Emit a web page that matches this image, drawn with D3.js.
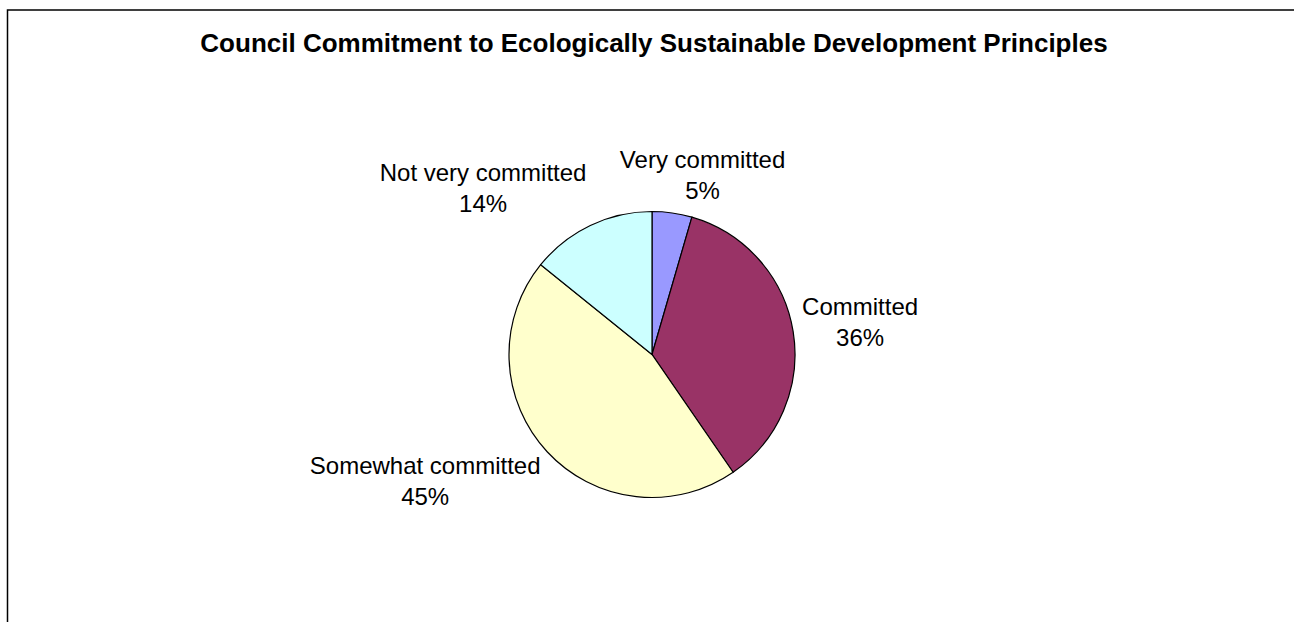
<!DOCTYPE html>
<html>
<head>
<meta charset="utf-8">
<script src="https://cdn.jsdelivr.net/npm/d3@7"></script>
<style>
  body { margin: 0; background: #fff; }
  svg { display: block; }
</style>
</head>
<body>
<svg id="chart" width="1294" height="622"></svg>
<script>
// chart data
const categories = ["Very committed", "Committed", "Somewhat committed", "Not very committed"];
const values = [4.5, 35.9, 45.4, 14.2];
const pctLabels = ["5%", "36%", "45%", "14%"];
const colors = ["#9999FF", "#993366", "#FFFFCC", "#CCFFFF"];
const title = "Council Commitment to Ecologically Sustainable Development Principles";

const width = 1294, height = 622;
const cx = 652, cy = 354.5, radius = 143;
const font = "'Liberation Sans', Arial, sans-serif";

const svg = d3.select("#chart");

// chart area frame (runs off the right and bottom of the window)
svg.append("rect")
  .attr("x", 7.5).attr("y", 10)
  .attr("width", width + 20).attr("height", height + 20)
  .attr("fill", "#fff")
  .attr("stroke", "#000")
  .attr("stroke-width", 1.5);

svg.append("text")
  .attr("x", 654).attr("y", 52)
  .attr("text-anchor", "middle")
  .attr("font-family", font)
  .attr("font-weight", "bold")
  .attr("font-size", 26)
  .text(title);

const pie = d3.pie().sort(null).value(d => d)(values);
const arc = d3.arc().innerRadius(0).outerRadius(radius);

const g = svg.append("g").attr("transform", "translate(" + cx + "," + cy + ")");

g.selectAll(".slice")
  .data(pie)
  .enter().append("path")
    .attr("class", "slice")
    .attr("d", arc)
    .attr("fill", (d, i) => colors[i])
    .attr("stroke", "#000")
    .attr("stroke-width", 1.2);

// labels sit just outside the pie, box pushed away from the slice
const gap = 9, lineGap = 31, capH = 17;
const clamp = t => Math.max(-1, Math.min(1, t));

pie.forEach((d, i) => {
  const a = (d.startAngle + d.endAngle) / 2;
  const dx = Math.sin(a), dy = -Math.cos(a);
  const ax = dx * (radius + gap), ay = dy * (radius + gap);

  const lab = g.append("text")
    .attr("font-family", font)
    .attr("font-size", 24)
    .attr("text-anchor", "middle");
  const l1 = lab.append("tspan").text(categories[i]);
  const l2 = lab.append("tspan").text(pctLabels[i]);

  const w = Math.max(l1.node().getComputedTextLength(), l2.node().getComputedTextLength());
  const h = capH + lineGap + 5;
  const bx = ax + clamp(dx / 0.4) * w / 2;
  const by = ay + clamp(dy / 0.7) * h / 2;
  const top = by - h / 2;

  l1.attr("x", bx).attr("y", top + capH);
  l2.attr("x", bx).attr("y", top + capH + lineGap);
});
</script>
</body>
</html>
